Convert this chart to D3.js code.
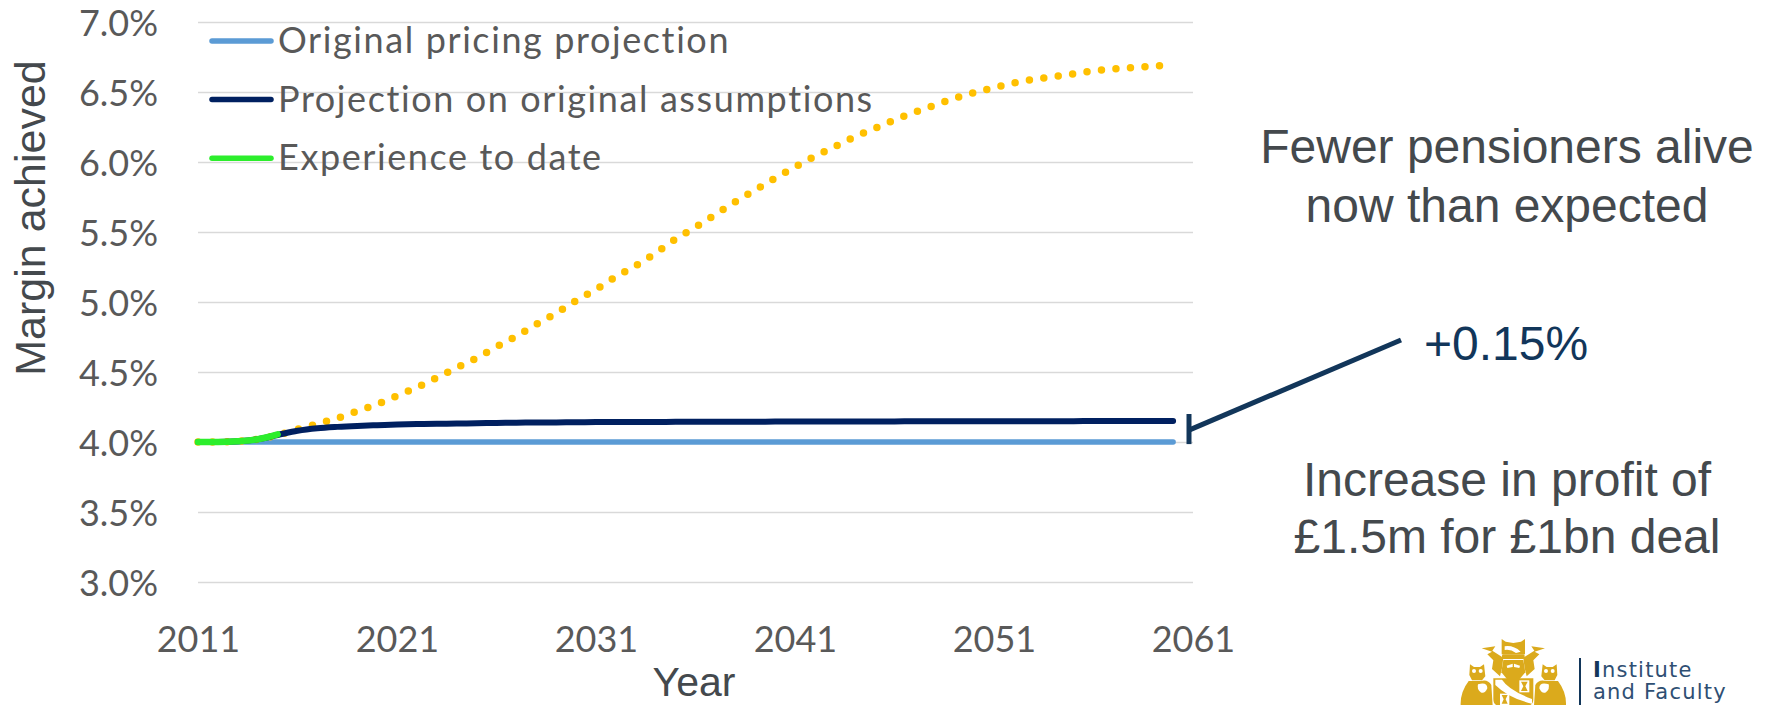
<!DOCTYPE html>
<html>
<head>
<meta charset="utf-8">
<title>Margin achieved</title>
<script src="https://cdn.jsdelivr.net/npm/d3@7"></script>
<style>
  html, body { margin: 0; background: #fff; overflow: hidden; }
  svg { display: block; }
  .tick-label { font-family: Lato, sans-serif; fill: #595959; }
  .arial { font-family: "Liberation Sans", Arial, sans-serif; fill: #44494d; }
</style>
</head>
<body>
<svg id="chart" width="1768" height="705"></svg>
<script>
// Yearly margin projections, 2011-2060
const years = [2011, 2012, 2013, 2014, 2015, 2016, 2017, 2018, 2019, 2020,
  2021, 2022, 2023, 2024, 2025, 2026, 2027, 2028, 2029, 2030,
  2031, 2032, 2033, 2034, 2035, 2036, 2037, 2038, 2039, 2040,
  2041, 2042, 2043, 2044, 2045, 2046, 2047, 2048, 2049, 2050,
  2051, 2052, 2053, 2054, 2055, 2056, 2057, 2058, 2059, 2060];

const pricing = [4, 4, 4, 4, 4, 4, 4, 4, 4, 4,
  4, 4, 4, 4, 4, 4, 4, 4, 4, 4,
  4, 4, 4, 4, 4, 4, 4, 4, 4, 4,
  4, 4, 4, 4, 4, 4, 4, 4, 4, 4,
  4, 4, 4, 4, 4, 4, 4, 4, 4, 4];

const assumptions = [4, 4, 4.005, 4.02, 4.05, 4.08, 4.098, 4.108, 4.115, 4.12,
  4.125, 4.128, 4.13, 4.132, 4.134, 4.136, 4.138, 4.139, 4.14, 4.141,
  4.142, 4.142, 4.143, 4.143, 4.144, 4.144, 4.145, 4.145, 4.145, 4.146,
  4.146, 4.146, 4.147, 4.147, 4.147, 4.147, 4.148, 4.148, 4.148, 4.148,
  4.149, 4.149, 4.149, 4.149, 4.149, 4.15, 4.15, 4.15, 4.15, 4.15];

const experienceYears = [2011, 2012, 2013, 2014, 2015];
const experience = [4, 4, 4.005, 4.02, 4.055];

const upside = [4, 4, 4.005, 4.02, 4.05, 4.09, 4.13, 4.17, 4.22, 4.27,
  4.33, 4.39, 4.46, 4.53, 4.6, 4.68, 4.755, 4.84, 4.92, 5.01,
  5.09, 5.18, 5.26, 5.35, 5.45, 5.535, 5.625, 5.715, 5.8, 5.885,
  5.965, 6.04, 6.11, 6.18, 6.24, 6.3, 6.355, 6.405, 6.455, 6.495,
  6.53, 6.565, 6.59, 6.61, 6.63, 6.65, 6.665, 6.675, 6.685, 6.69];

const yTicks = [3, 3.5, 4, 4.5, 5, 5.5, 6, 6.5, 7];
const xTicks = [2011, 2021, 2031, 2041, 2051, 2061];

const legendItems = ['Original pricing projection', 'Projection on original assumptions', 'Experience to date'];
const legendColors = ['#5b9bd5', '#002060', '#2cee2c'];

const svg = d3.select('#chart');
const x = d3.scaleLinear().domain([2011, 2061]).range([198, 1193]);
const y = d3.scaleLinear().domain([3, 7]).range([582, 22]);

// Gridlines and value labels
const yAxis = svg.append('g')
  .attr('transform', `translate(${x.range()[0]},0)`)
  .call(d3.axisLeft(y).tickValues(yTicks).tickSize(-(x.range()[1] - x.range()[0])).tickPadding(40).tickFormat(d => d.toFixed(1) + '%'));
yAxis.select('.domain').remove();
yAxis.selectAll('line').attr('stroke', '#d9d9d9').attr('stroke-width', 1.5);
yAxis.selectAll('text')
  .attr('class', 'tick-label')
  .attr('font-size', 36)
  .attr('dy', '0.38em');

const xAxis = svg.append('g')
  .attr('transform', 'translate(0,652)')
  .call(d3.axisBottom(x).tickValues(xTicks).tickSize(0).tickPadding(0).tickFormat(d3.format('d')));
xAxis.select('.domain').remove();
xAxis.selectAll('text')
  .attr('class', 'tick-label')
  .attr('font-size', 36)
  .attr('y', 0)
  .attr('dy', 0);

// Axis titles
svg.append('text').attr('class', 'arial')
  .attr('x', 694).attr('y', 696)
  .attr('text-anchor', 'middle').attr('font-size', 41)
  .text('Year');
svg.append('text').attr('class', 'arial')
  .attr('transform', 'translate(45,218) rotate(-90)')
  .attr('text-anchor', 'middle').attr('font-size', 43)
  .text('Margin achieved');

// Series, back to front
const line = d3.line().x(d => x(d[0])).y(d => y(d[1])).curve(d3.curveMonotoneX);
const toPoints = (xs, ys) => xs.map((yr, i) => [yr, ys[i]]);

svg.append('path')
  .attr('d', line(toPoints(years, pricing)))
  .attr('fill', 'none').attr('stroke', legendColors[0]).attr('stroke-width', 5.5).attr('stroke-linecap', 'round');
svg.append('path')
  .attr('d', line(toPoints(years, upside)))
  .attr('fill', 'none').attr('stroke', '#ffc000').attr('stroke-width', 7.5)
  .attr('stroke-linecap', 'round').attr('stroke-dasharray', '0 14.55');
svg.append('path')
  .attr('d', line(toPoints(years, assumptions)))
  .attr('fill', 'none').attr('stroke', legendColors[1]).attr('stroke-width', 6).attr('stroke-linecap', 'round');
svg.append('path')
  .attr('d', line(toPoints(experienceYears, experience)))
  .attr('fill', 'none').attr('stroke', legendColors[2]).attr('stroke-width', 6.5).attr('stroke-linecap', 'round');

// Legend
const legend = svg.append('g').selectAll('g').data(legendItems).join('g')
  .attr('transform', (d, i) => `translate(0,${41 + i * 58.6})`);
legend.append('line')
  .attr('x1', 212).attr('x2', 271)
  .attr('stroke', (d, i) => legendColors[i]).attr('stroke-width', 5.5).attr('stroke-linecap', 'round');
legend.append('text')
  .attr('class', 'tick-label')
  .attr('x', 278).attr('y', 12)
  .attr('font-size', 36).attr('letter-spacing', 1.6)
  .text(d => d);

// Callout for the gap at the end of the projection
const callout = svg.append('g').attr('stroke', '#12365a').attr('stroke-width', 5).attr('fill', 'none');
callout.append('line').attr('x1', 1189).attr('x2', 1189).attr('y1', y(4.2)).attr('y2', y(3.985));
callout.append('line').attr('x1', 1189).attr('x2', 1401).attr('y1', y(4.085)).attr('y2', 340);

svg.append('text').attr('class', 'arial')
  .attr('x', 1506).attr('y', 360)
  .attr('text-anchor', 'middle').attr('font-size', 48)
  .style('fill', '#12365a')
  .text('+0.15%');

const notes = [
  ['Fewer pensioners alive', 163],
  ['now than expected', 222],
  ['Increase in profit of', 496],
  ['£1.5m for £1bn deal', 553]
];
svg.append('g').selectAll('text').data(notes).join('text')
  .attr('class', 'arial')
  .attr('x', 1507).attr('y', d => d[1])
  .attr('text-anchor', 'middle').attr('font-size', 48)
  .text(d => d[0]);

// Crest, one half mirrored about its centre line
const gold = '#dbaa1c';
const crest = svg.append('g').attr('transform', 'translate(1450,635) scale(0.3333)');
crest.append('path').attr('fill', gold).attr('d', 'M155 12L167 20L190 24L213 20L225 12V58H155Z');
crest.append('path').attr('fill', '#fff').attr('d', 'M164 34Q190 30 212 50L198 54Q182 42 164 45Z');
crest.append('rect').attr('fill', gold).attr('x', 156).attr('y', 58).attr('width', 68).attr('height', 14).attr('rx', 4);
crest.append('path').attr('fill', gold).attr('d', 'M160 75H220L226 112L206 136H174L154 112Z');
crest.append('path').attr('fill', gold).attr('d', 'M130 130H250V192Q250 212 232 212H148Q130 212 130 192Z');
crest.append('path').attr('fill', '#fff').attr('d', 'M136 134L156 134Q176 165 246 192L246 206Q176 190 136 150Z');
crest.append('rect').attr('fill', '#fff').attr('x', 208).attr('y', 136).attr('width', 30).attr('height', 36);
crest.append('rect').attr('fill', '#fff').attr('x', 150).attr('y', 176).attr('width', 28).attr('height', 34);
crest.append('path').attr('fill', gold).attr('d', 'M213 140H233L226 154L233 168H213L220 154Z');
crest.append('path').attr('fill', gold).attr('d', 'M155 180H173L167 193L173 206H155L161 193Z');

[1, -1].forEach(side => {
  const half = crest.append('g')
    .attr('transform', side === 1 ? null : 'translate(380,0) scale(-1,1)');
  half.append('path').attr('fill', gold)
    .attr('d', 'M95 40L136 34L127 47L160 68L156 100L150 124L126 102L130 76L112 58L126 50Z');
  half.append('path').attr('fill', gold)
    .attr('d', 'M60 88L72 96H90L102 88L106 124L96 136H66L58 120Z');
  half.append('path').attr('fill', gold)
    .attr('d', 'M56 138Q30 172 32 212H128L124 150Q114 132 92 138Z');
  half.append('circle').attr('fill', '#fff').attr('cx', 72).attr('cy', 108).attr('r', 6);
  half.append('circle').attr('fill', '#fff').attr('cx', 92).attr('cy', 108).attr('r', 6);
  half.append('path').attr('fill', '#fff').attr('d', 'M84 148Q112 140 112 160Q104 178 92 172Q80 162 84 148Z');
  half.append('path').attr('fill', '#fff').attr('d', 'M170 92L188 86V96L172 99Z');
});

svg.append('line')
  .attr('x1', 1580).attr('x2', 1580).attr('y1', 658).attr('y2', 705)
  .attr('stroke', '#12365a').attr('stroke-width', 2);

const wordmark = svg.append('g').attr('font-family', '"DejaVu Sans", sans-serif').attr('font-size', 21).attr('letter-spacing', 1.2).attr('fill', '#2f4f73');
const firstLine = wordmark.append('text').attr('x', 1593).attr('y', 677);
firstLine.append('tspan').attr('font-weight', 700).attr('fill', '#12365a').text('I');
firstLine.append('tspan').text('nstitute');
wordmark.append('text').attr('x', 1593).attr('y', 699).text('and Faculty');
</script>
</body>
</html>
